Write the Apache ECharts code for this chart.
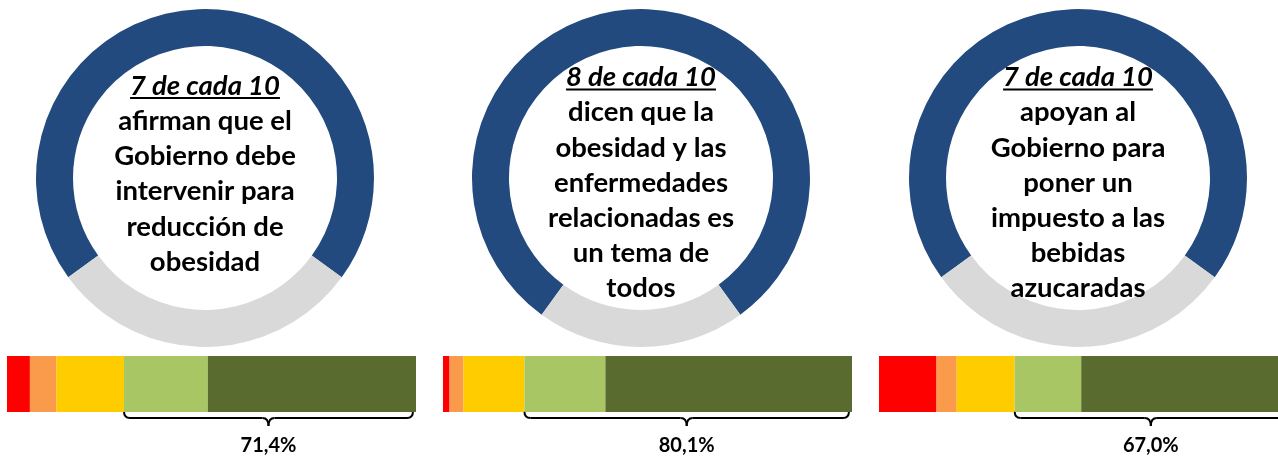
<!DOCTYPE html>
<html>
<head>
<meta charset="utf-8">
<script src="https://cdn.jsdelivr.net/npm/echarts@6/dist/echarts.min.js"></script>
<style>
  html, body { margin: 0; padding: 0; background: #fff; }
  #main { width: 1278px; height: 456px; }
</style>
</head>
<body>
<div id="main"></div>
<script>
// datos de los anillos
var donutTitles = ['7 de cada 10', '8 de cada 10', '7 de cada 10'];
var donutTexts = [
  ['afirman que el', 'Gobierno debe', 'intervenir para', 'reducción de', 'obesidad'],
  ['dicen que la', 'obesidad y las', 'enfermedades', 'relacionadas es', 'un tema de', 'todos'],
  ['apoyan al', 'Gobierno para', 'poner un', 'impuesto a las', 'bebidas', 'azucaradas']
];
var donutYes = [70, 80, 70];
var donutNo = [30, 20, 30];

// barras apiladas (%), una por anillo
var levels = ['Totalmente en desacuerdo', 'En desacuerdo', 'Ni de acuerdo ni en desacuerdo', 'De acuerdo', 'Totalmente de acuerdo'];
var redVals = [5.6, 1.6, 14.0];
var orangeVals = [6.5, 3.4, 4.9];
var yellowVals = [16.5, 14.9, 14.1];
var lgreenVals = [20.5, 19.8, 16.2];
var dgreenVals = [50.9, 60.3, 50.8];
var braceLabels = ['71,4%', '80,1%', '67,0%'];

var levelColors = ['#ff0000', '#f99b4b', '#ffcc00', '#a8c664', '#5a6b30'];
var pieCenters = [[205, 178], [641, 178], [1078, 178]];
var textCenterY = [174, 183, 183];
var barLeft = [7, 443, 879];
var barWidths = [409, 409, 411];
var barTop = 356, barH = 56;
var FONT = 'Lato, "Open Sans", sans-serif';
var FS = 27.5;
var LH = 35.2;

var myChart = echarts.init(document.getElementById('main'));

var grids = [], xAxes = [], yAxes = [], series = [];
var levelVals = [redVals, orangeVals, yellowVals, lgreenVals, dgreenVals];

for (var i = 0; i < 3; i++) {
  series.push({
    type: 'pie',
    center: pieCenters[i],
    radius: [132, 169],
    startAngle: 90 + donutYes[i] * 1.8,
    silent: true,
    label: { show: false },
    labelLine: { show: false },
    data: [
      { value: donutYes[i], name: 'Sí', itemStyle: { color: '#224a7e' } },
      { value: donutNo[i], name: 'No', itemStyle: { color: '#d9d9d9' } }
    ]
  });

  grids.push({ left: barLeft[i], top: barTop, width: barWidths[i], height: barH, outerBoundsMode: 'none', containLabel: false });
  xAxes.push({
    type: 'value', gridIndex: i, min: 0, max: 100,
    axisLine: { show: false }, axisTick: { show: false },
    axisLabel: { show: false }, splitLine: { show: false }
  });
  yAxes.push({
    type: 'category', gridIndex: i, data: ['p' + (i + 1)],
    axisLine: { show: false }, axisTick: { show: false },
    axisLabel: { show: false }
  });
  for (var k = 0; k < 5; k++) {
    series.push({
      type: 'bar',
      name: levels[k],
      xAxisIndex: i, yAxisIndex: i,
      stack: 'b' + i,
      barWidth: '100%',
      silent: true,
      itemStyle: { color: levelColors[k] },
      data: [levelVals[k][i]]
    });
  }
}

var option = {
  animation: false,
  grid: grids,
  xAxis: xAxes,
  yAxis: yAxes,
  series: series
};
myChart.setOption(option);

// textos, subrayado y llaves
var ctx = document.createElement('canvas').getContext('2d');
var graphics = [];
var lineSt = { stroke: '#000', lineWidth: 2, fill: null };
for (var i = 0; i < 3; i++) {
  var nLines = donutTexts[i].length + 1;
  var cx = pieCenters[i][0];
  var topY = textCenterY[i] - nLines * LH / 2;
  graphics.push({
    type: 'text',
    z: 100,
    style: {
      x: cx, y: textCenterY[i],
      align: 'center', verticalAlign: 'middle',
      text: '{h|' + donutTitles[i] + '}\n' + donutTexts[i].join('\n'),
      fontFamily: FONT, fontWeight: 'bold', fontSize: FS,
      lineHeight: LH, fill: '#000',
      rich: {
        h: { fontFamily: FONT, fontWeight: 'bold', fontStyle: 'italic', fontSize: FS, lineHeight: LH, fill: '#000' }
      }
    }
  });
  ctx.font = 'italic bold ' + FS + 'px ' + FONT;
  var tw = ctx.measureText(donutTitles[i]).width;
  var uy = topY + LH / 2 + 12;
  graphics.push({
    type: 'line',
    z: 100,
    shape: { x1: cx - tw / 2, y1: uy, x2: cx + tw / 2, y2: uy },
    style: { stroke: '#000', lineWidth: 2 }
  });

  // llave bajo los verdes
  var startVal = redVals[i] + orangeVals[i] + yellowVals[i];
  var x1 = myChart.convertToPixel({ xAxisIndex: i }, startVal);
  var x2 = myChart.convertToPixel({ xAxisIndex: i }, 100) - 3;
  var xm = (x1 + x2) / 2;
  var y0 = barTop + barH - 1, y1 = 418, y2 = 426, r = 6;
  graphics.push(
    { type: 'bezierCurve', shape: { x1: x1, y1: y0, cpx1: x1, cpy1: y1, x2: x1 + r, y2: y1 }, style: lineSt },
    { type: 'line', shape: { x1: x1 + r, y1: y1, x2: xm - r, y2: y1 }, style: lineSt },
    { type: 'bezierCurve', shape: { x1: xm - r, y1: y1, cpx1: xm, cpy1: y1, x2: xm, y2: y2 }, style: lineSt },
    { type: 'bezierCurve', shape: { x1: xm + r, y1: y1, cpx1: xm, cpy1: y1, x2: xm, y2: y2 }, style: lineSt },
    { type: 'line', shape: { x1: xm + r, y1: y1, x2: x2 - r, y2: y1 }, style: lineSt },
    { type: 'bezierCurve', shape: { x1: x2, y1: y0, cpx1: x2, cpy1: y1, x2: x2 - r, y2: y1 }, style: lineSt }
  );
  graphics.push({
    type: 'text',
    style: {
      x: xm, y: 446, align: 'center', verticalAlign: 'middle',
      text: braceLabels[i], fontFamily: FONT, fontWeight: 'bold', fontSize: 20, fill: '#000'
    }
  });
}
myChart.setOption({ graphic: graphics });
</script>
</body>
</html>
